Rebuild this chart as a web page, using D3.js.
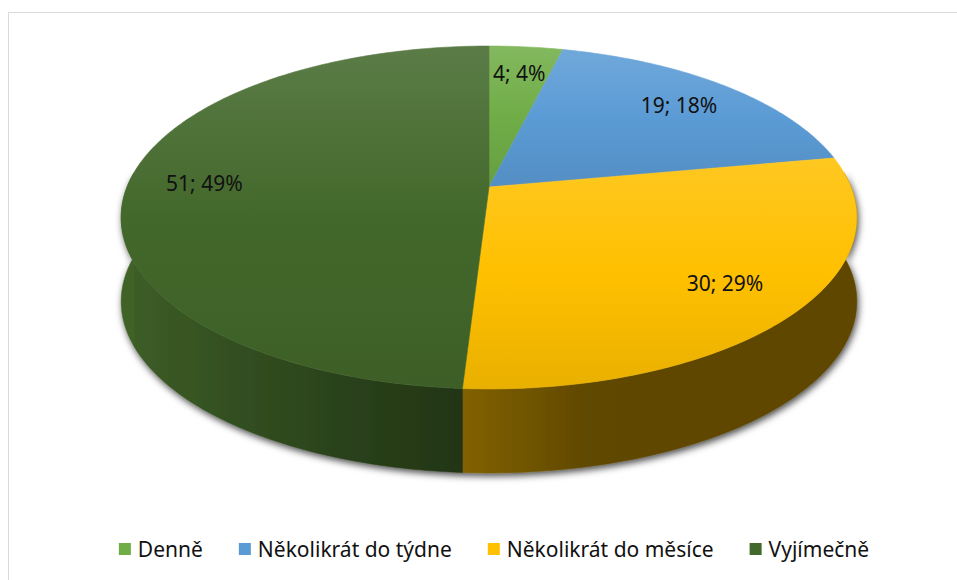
<!DOCTYPE html>
<html>
<head>
<meta charset="utf-8">
<script src="https://cdn.jsdelivr.net/npm/d3@7"></script>
<style>
  body { margin: 0; background: #fff; }
  svg { display: block; }
</style>
</head>
<body>
<div class="chart"></div>
<script>
const width = 957
const height = 580

// data
const categories = ["Denně", "Několikrát do týdne", "Několikrát do měsíce", "Vyjímečně"]
const values = [4, 19, 30, 51]
const colors = ["#70AD47", "#5B9BD5", "#FFC000", "#43682B"]

// 3d view of the pie
const cx = 489
const cy = 187
const R = 362
const tilt = 27.3 * Math.PI / 180
const dist = 5.0
const wallPx = 84
const labelR = 0.79

const total = d3.sum(values)

const xPie = d3.scaleLinear().domain([-1, 1]).range([cx - R, cx + R])
const yPie = d3.scaleLinear().domain([-1, 1]).range([cy - R, cy + R])

// angle (from 12 o'clock, clockwise), radius -> screen point on the top face
function project(a, r) {
    const X = r * Math.sin(a)
    const Z = -r * Math.cos(a)
    const Yp = -Z * Math.sin(tilt)
    const Zp = Z * Math.cos(tilt)
    const s = dist / (dist - Zp)
    return [xPie(X * s), yPie(-Yp * s)]
}

function arcPoints(a0, a1, r, drop) {
    const n = Math.max(2, Math.ceil(Math.abs(a1 - a0) / (Math.PI / 180)))
    return d3.range(n + 1).map(i => {
        const p = project(a0 + (a1 - a0) * i / n, r)
        return [p[0], p[1] + drop]
    })
}

// side lighting, light from the left
function wallShade(a) {
    const deg = a * 180 / Math.PI
    return Math.max(0.37, 0.48 + 0.46 * Math.cos((deg - 270) * Math.PI / 180))
}

const svg = d3.select(".chart")
    .append("svg")
    .attr("width", width)
    .attr("height", height)

const defs = svg.append("defs")

// chart frame
svg.append("rect")
    .attr("x", 8.5)
    .attr("y", 12.5)
    .attr("width", 1000)
    .attr("height", 620)
    .attr("fill", "#fff")
    .attr("stroke", "#d9d9d9")
    .attr("stroke-width", 1)

const shadow = defs.append("filter")
    .attr("id", "shadow")
    .attr("x", "-10%").attr("y", "-10%")
    .attr("width", "120%").attr("height", "130%")
shadow.append("feDropShadow")
    .attr("dx", 1.5)
    .attr("dy", 3)
    .attr("stdDeviation", 3.5)
    .attr("flood-color", "#000")
    .attr("flood-opacity", 0.7)

const arcs = d3.pie().sort(null).value(d => d)(values)

const line = d3.line()

// side walls (front half only)
const visA0 = 85 * Math.PI / 180
const visA1 = 275 * Math.PI / 180

const walls = svg.append("g").attr("filter", "url(#shadow)")

arcs.forEach((d, i) => {
    const a0 = Math.max(d.startAngle, visA0)
    const a1 = Math.min(d.endAngle, visA1)
    if (a1 <= a0) return
    const top = arcPoints(a0, a1, 1, 0)
    const bottom = arcPoints(a1, a0, 1, wallPx)
    const xs = top.map(p => p[0])
    const gx0 = xs[0]
    const gx1 = xs[xs.length - 1]
    const grad = defs.append("linearGradient")
        .attr("id", "wall" + i)
        .attr("gradientUnits", "userSpaceOnUse")
        .attr("x1", gx0).attr("x2", gx1)
        .attr("y1", 0).attr("y2", 0)
    const steps = 12
    d3.range(steps + 1).forEach(k => {
        const a = a0 + (a1 - a0) * k / steps
        const c = d3.rgb(colors[i])
        const f = wallShade(a)
        const px = project(a, 1)[0]
        let off = (px - gx0) / (gx1 - gx0)
        off = Math.min(1, Math.max(0, off))
        grad.append("stop")
            .attr("offset", off)
            .attr("stop-color", d3.rgb(c.r * f, c.g * f, c.b * f))
    })
    walls.append("path")
        .attr("d", line(top.concat(bottom)) + "Z")
        .attr("fill", `url(#wall${i})`)
        .attr("stroke", `url(#wall${i})`)
        .attr("stroke-width", 0.5)
})

// top faces
const tops = svg.append("g")
arcs.forEach((d, i) => {
    const base = d3.rgb(colors[i])
    const grad = defs.append("linearGradient")
        .attr("id", "top" + i)
        .attr("x1", 0).attr("x2", 0)
        .attr("y1", 0).attr("y2", 1)
    grad.append("stop").attr("offset", 0)
        .attr("stop-color", d3.interpolateRgb(base, "#ffffff")(0.13))
    grad.append("stop").attr("offset", 0.5).attr("stop-color", base)
    grad.append("stop").attr("offset", 1).attr("stop-color", base.darker(0.25))

    const pts = [project(0, 0)].concat(arcPoints(d.startAngle, d.endAngle, 1, 0))
    tops.append("path")
        .attr("d", line(pts) + "Z")
        .attr("fill", `url(#top${i})`)
        .attr("stroke", `url(#top${i})`)
        .attr("stroke-width", 0.6)
})

// data labels
svg.append("g")
    .selectAll("text")
    .data(arcs)
    .join("text")
    .attr("transform", d => {
        const p = project((d.startAngle + d.endAngle) / 2, labelR)
        return `translate(${p[0]}, ${p[1]})`
    })
    .attr("text-anchor", "middle")
    .attr("dominant-baseline", "central")
    .attr("font-family", "'Noto Sans', sans-serif")
    .attr("font-size", 21)
    .attr("fill", "#111")
    .text(d => `${d.value}; ${Math.round(d.value / total * 100)}%`)

// legend
const legend = svg.append("g")
const items = legend.selectAll("g")
    .data(categories)
    .join("g")

items.append("rect")
    .attr("width", 12)
    .attr("height", 12)
    .attr("y", -6)
    .attr("fill", (d, i) => colors[i])

items.append("text")
    .attr("x", 19)
    .attr("dominant-baseline", "central")
    .attr("font-family", "'Noto Sans', sans-serif")
    .attr("font-size", 21)
    .attr("fill", "#111")
    .text(d => d)

let xPos = 0
items.each(function () {
    const w = 19 + d3.select(this).select("text").node().getComputedTextLength()
    d3.select(this).attr("transform", `translate(${xPos}, 0)`)
    xPos += w + 36
})
const legendW = xPos - 36
legend.attr("transform", `translate(${494 - legendW / 2}, 549)`)
</script>
</body>
</html>
